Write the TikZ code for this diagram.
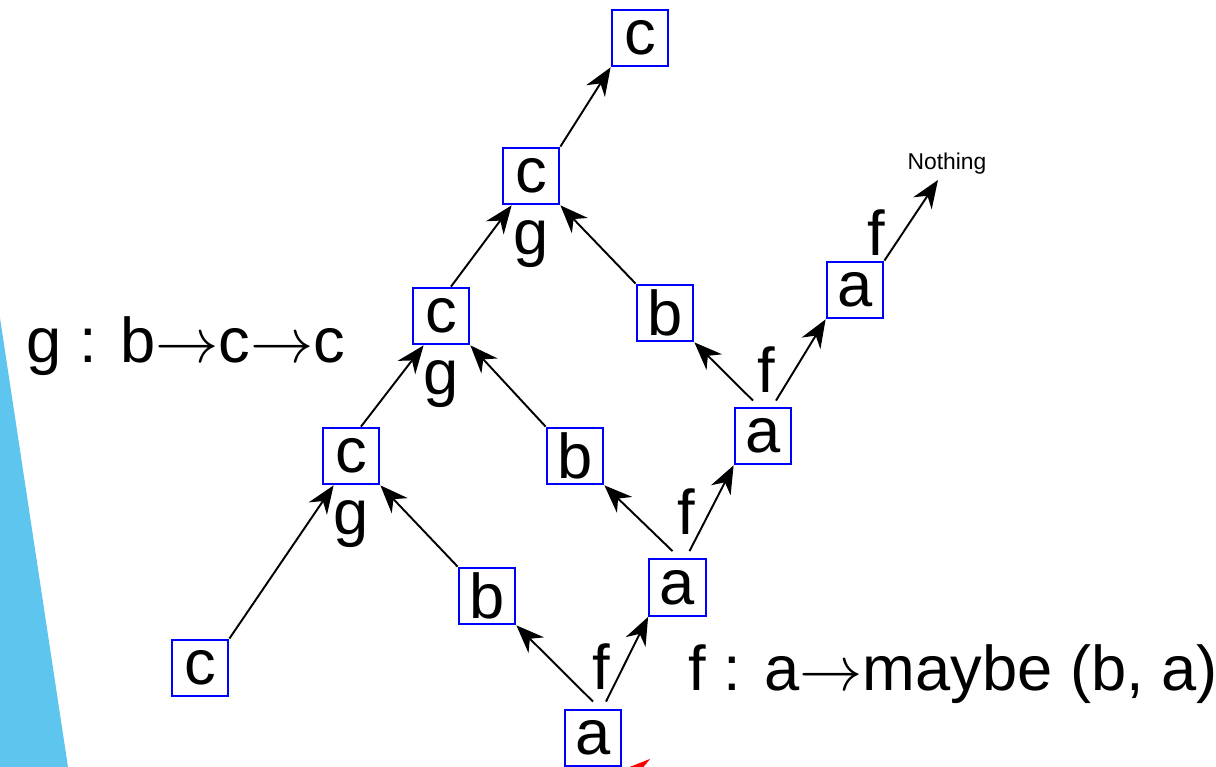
\documentclass[tikz,border=0pt]{standalone}
\usepackage{fontspec}
\setmainfont{Liberation Sans}
\usetikzlibrary{arrows.meta, positioning}
\definecolor{skyblue}{RGB}{94,197,238}
\newcommand{\longarr}{\resizebox{1em}{!}{$\rightarrow$}}

\begin{document}
\begin{tikzpicture}[
        box/.style={draw=blue, line width=1.3pt, minimum size=1.13cm, inner sep=0pt, font=\fontsize{36}{40}\selectfont},
        lbl/.style={inner sep=0pt, font=\fontsize{36}{40}\selectfont},
        arrow/.style={-{Stealth[length=0.56cm, width=0.44cm, inset=0.18cm]}, line width=1.1pt}
    ]
        \useasboundingbox (0,0) rectangle (24.32,15.34);
        \clip (0,0) rectangle (24.32,15.34);

        % Side stripe
        \fill[skyblue] (0,0) -- (0,8.98) -- (1.36,0) -- cycle;

        % a column
        \node[box] (a0) at (11.86,0.58) {a};
        \node[box] (a1) at (13.55,3.59) {a};
        \node[box] (a2) at (15.26,6.62) {a};
        \node[box] (a3) at (17.10,9.54) {a};
        \node[font=\fontsize{13}{15}\selectfont, inner sep=0pt] (nothing) at (18.94,12.06) {Nothing};

        % b column
        \node[box] (b1) at (9.74,3.42) {b};
        \node[box] (b2) at (11.50,6.22) {b};
        \node[box] (b3) at (13.30,9.08) {b};

        % c column
        \node[box] (c0) at (4.00,1.98) {c};
        \node[box] (c1) at (7.02,6.22) {c};
        \node[box] (c2) at (8.82,9.02) {c};
        \node[box] (c3) at (10.62,11.82) {c};
        \node[box] (c4) at (12.80,14.58) {c};

        % f and g marks
        \node[lbl, above=0.38cm of a0, xshift=0.16cm] (f0) {f};
        \node[lbl, above=0.46cm of a1, xshift=0.18cm] (f1) {f};
        \node[lbl, above=0.28cm of a2, xshift=0.06cm] (f2) {f};
        \node[lbl, above=0.10cm of a3, xshift=0.42cm] (f3) {f};
        \node[lbl, below=0.3cm of c1] (g1) {g};
        \node[lbl, below=0.3cm of c2] (g2) {g};
        \node[lbl, below=0.3cm of c3] (g3) {g};

        % Signatures
        \node[lbl, anchor=base west] (gsig) at (0.52,8.08) {g : b\longarr c\longarr c};
        \node[lbl, anchor=base west] (fsig) at (13.76,1.52) {f : a\longarr maybe (b, a)};

        % f steps
        \draw[arrow] ([yshift=0.14cm]a0.north) -- (b1.south east);
        \draw[arrow] ([xshift=0.26cm,yshift=0.14cm]a0.north) -- (a1.south west);
        \draw[arrow] ([xshift=-0.1cm,yshift=0.14cm]a1.north) -- (b2.south east);
        \draw[arrow] ([xshift=0.24cm,yshift=0.14cm]a1.north) -- (a2.south west);
        \draw[arrow] ([xshift=-0.2cm,yshift=0.12cm]a2.north) -- (b3.south east);
        \draw[arrow] ([xshift=0.26cm,yshift=0.12cm]a2.north) -- (a3.south west);
        \draw[arrow] (a3.north east) -- ([xshift=-0.18cm,yshift=-0.1cm]nothing.south);

        % g steps
        \draw[arrow] (c0.north east) -- ([xshift=0.24cm]c1.south west);
        \draw[arrow] (b1.north west) -- (c1.south east);
        \draw[arrow] ([xshift=0.2cm]c1.north) -- ([xshift=0.24cm]c2.south west);
        \draw[arrow] (b2.north west) -- (c2.south east);
        \draw[arrow] ([xshift=0.2cm]c2.north) -- ([xshift=0.2cm]c3.south west);
        \draw[arrow] (b3.north west) -- (c3.south east);
        \draw[arrow] (c3.north east) -- (c4.south west);

        % Pointer at the bottom edge
        \coordinate (redtail) at (15.5,-0.06);
        \coordinate (redtip) at (12.44,-0.06);
        \draw[arrow, red] (redtail) -- (redtip);
    \end{tikzpicture}
\end{document}
